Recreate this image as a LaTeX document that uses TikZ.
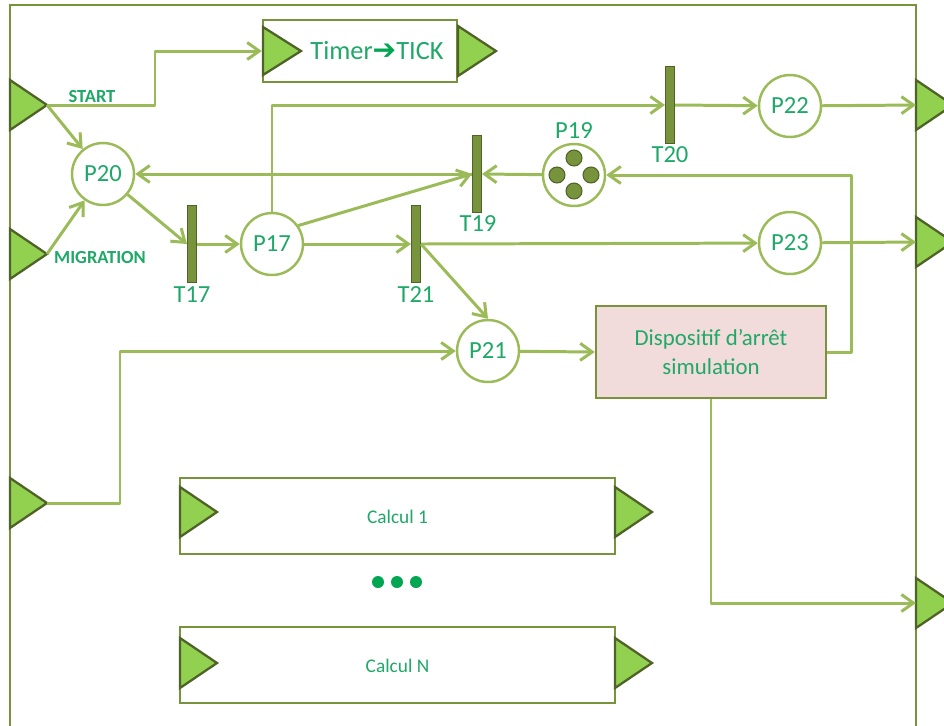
\documentclass[tikz,border=0pt]{standalone}
\usepackage{fontspec}
\setmainfont{Carlito}
\newfontfamily\arrowfont{DejaVu Sans}
\usepackage{xcolor}
\usetikzlibrary{arrows.meta}
\definecolor{olive}{HTML}{77933C}
\definecolor{oline}{HTML}{9BBB59}
\definecolor{odark}{HTML}{4F6228}
\definecolor{plight}{HTML}{92D050}
\definecolor{tgreen}{HTML}{1FA868}
\definecolor{dgreen}{HTML}{00A651}
\definecolor{pinkbg}{HTML}{F2DCDB}
\tikzset{
  frame/.style={draw=olive, line width=1.6pt},
  link/.style={draw=oline, line width=1.7pt, line join=round, -{Straight Barb[length=2.4mm,width=3.4mm]}},
  place/.style={circle, draw=oline, fill=white, line width=1.4pt, minimum size=1.24cm, inner sep=0pt,
    text=tgreen, font=\fontsize{14}{16}\selectfont},
  trans/.style={rectangle, draw=odark, fill=olive, line width=0.6pt, minimum width=0.18cm,
    minimum height=1.54cm, inner sep=0pt},
  tok/.style={circle, draw=odark, fill=olive, line width=0.6pt, minimum size=0.32cm, inner sep=0pt},
  port/.style={draw=odark, fill=plight, line width=1.3pt, line join=miter},
  block/.style={rectangle, draw=olive, fill=white, line width=1.4pt, inner sep=0pt},
  lab/.style={text=tgreen, font=\fontsize{14}{16}\selectfont},
  labs/.style={text=tgreen, font=\fontsize{11}{13}\selectfont},
  labb/.style={text=tgreen, font=\fontsize{10.5}{12}\selectfont\bfseries},
}

\begin{document}
\begin{tikzpicture}[x=0.02cm, y=-0.02cm]
\useasboundingbox (0,0) rectangle (944,725);
% outer frame
\draw[frame] (10,735) -- (10,5) -- (916,5) -- (916,735);

% boxes
\node[block, minimum width=3.88cm, minimum height=1.24cm] (timer) at (360,51) {};
\node[lab, font=\fontsize{15}{17}\selectfont] (timertxt) at (377,51)
  {Timer{\arrowfont\bfseries\color{dgreen}\fontsize{16}{17}\selectfont ➔}TICK};
\node[block, fill=pinkbg, minimum width=4.6cm, minimum height=1.84cm, align=center,
  text=tgreen, font=\fontsize{13}{17}\selectfont] (stop) at (711,352)
  {Dispositif d’arrêt\\simulation};
\node[block, minimum width=8.7cm, minimum height=1.52cm] (calc1) at (397.5,516) {};
\node[labs] (calc1txt) at (397.5,517) {Calcul 1};
\node[block, minimum width=8.7cm, minimum height=1.52cm] (calcN) at (397.5,665) {};
\node[labs] (calcNtxt) at (397.5,666) {Calcul N};

% triangles on the boxes
\draw[port] (263,27) -- (301,51) -- (263,75) -- cycle;
\draw[port] (458,26) -- (496,51) -- (458,76) -- cycle;
\foreach \y in {512,663}{
  \draw[port] (180,\y-25) -- (217,\y) -- (180,\y+25) -- cycle;
  \draw[port] (615,\y-25) -- (652,\y) -- (615,\y+25) -- cycle;
}

% input / output ports
\foreach \n/\y in {start/105,migr/254,ext/503}{
  \draw[port] (10,\y-25) -- (47,\y) -- (10,\y+25) -- cycle;
  \coordinate (\n) at (47,\y);
}
\foreach \n/\y in {out22/105,out23/242,outstop/603}{
  \draw[port] (916,\y-25) -- (953,\y) -- (916,\y+25) -- cycle;
  \coordinate (\n) at (916,\y);
}
\node[labb] (startlab) at (92,97) {START};
\node[labb] (migrlab) at (100,258) {MIGRATION};

% places
\node[place] (P20) at (103,174) {P20};
\node[place] (P17) at (272,244) {P17};
\node[place] (P19) at (574,175) {};
\node[place] (P22) at (790,106) {P22};
\node[place] (P23) at (790,243) {P23};
\node[place] (P21) at (488,351) {P21};
\node[lab] (P19lab) at (574,131) {P19};
\node[tok] (k1) at (574,158) {};
\node[tok] (k2) at (557,175) {};
\node[tok] (k3) at (591,175) {};
\node[tok] (k4) at (574,191) {};

% transitions
\node[trans] (T17) at (192,244) {};
\node[trans] (T21) at (416,244) {};
\node[trans] (T19) at (477,174) {};
\node[trans] (T20) at (670,105) {};
\node[lab] (T17lab) at (192,295) {T17};
\node[lab] (T21lab) at (416,295) {T21};
\node[lab] (T19lab) at (478,224) {T19};
\node[lab] (T20lab) at (670,155) {T20};

% arcs
\draw[link] (start) -- ++(108,0) |- (timer.west);
\draw[link] (start) -- (P20);
\draw[link] (migr) -- (P20);
\draw[link] (P20) -- (T17.west);
\draw[link] (T17.east) -- (P17);
\draw[link] (P17.north) |- (T20.west);
\draw[link] (P17.35) -- (T19.west);
\draw[link] (T19.west) -- (P20);
\draw[link] (P19) -- (T19.east);
\draw[link] (P17) -- (T21.west);
\draw[link] (T21.east) -- (P23);
\draw[link] (T21.east) -- (P21.north);
\draw[link] (T20.east) -- (P22);
\draw[link] (P22) -- (out22);
\draw[link] (P23) -- (out23);
\draw[link] (ext) -- ++(73,0) |- (P21);
\draw[link] (P21) -- (stop.west);
\draw[link] (stop.east) -- ++(24,0) |- (P19);
\draw[link] (stop.south) |- (outstop);

% dots between the two blocks
\foreach \x in {378,397,416}{
  \fill[dgreen] (\x,582) circle[radius=6];
}
\end{tikzpicture}
\end{document}
